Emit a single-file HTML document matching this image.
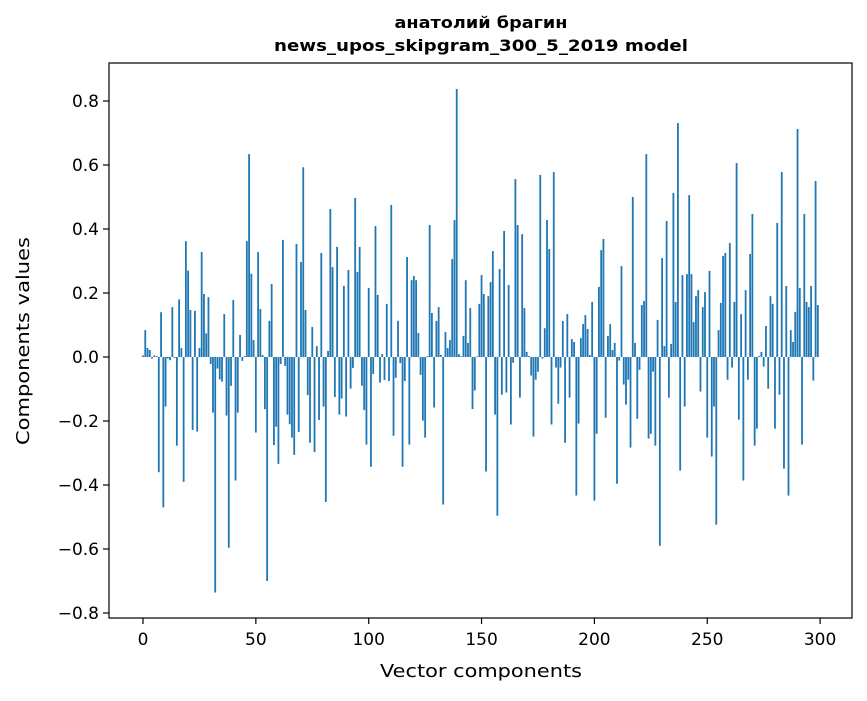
<!DOCTYPE html>
<html><head><meta charset="utf-8"><style>html,body{margin:0;padding:0;background:#fff}</style></head>
<body>
<svg id="s" width="867" height="696" xmlns="http://www.w3.org/2000/svg" font-family="DejaVu Sans, Liberation Sans, sans-serif">
<rect width="867" height="696" fill="#fff"/>
<g id="bars" fill="#1f77b4"></g>
<rect x="109" y="63" width="743" height="555" fill="none" stroke="#000" stroke-width="1.2"/>
<g id="ticks" stroke="#000" stroke-width="1.2"></g>
<g id="labels" font-size="17" fill="#000"></g>
<text x="481" y="28" text-anchor="middle" font-size="16" font-weight="bold" textLength="173" lengthAdjust="spacingAndGlyphs">анатолий брагин</text>
<text x="481" y="51" text-anchor="middle" font-size="16" font-weight="bold" textLength="414" lengthAdjust="spacingAndGlyphs">news_upos_skipgram_300_5_2019 model</text>
<text x="481" y="677" text-anchor="middle" font-size="18" textLength="202" lengthAdjust="spacingAndGlyphs">Vector components</text>
<text transform="translate(29,341) rotate(-90)" text-anchor="middle" font-size="18" textLength="208" lengthAdjust="spacingAndGlyphs">Components values</text>
</svg>
<script>
var v=[0.005,0.084,0.028,0.022,-0.005,0.005,0.003,-0.36,0.14,-0.47,-0.155,-0.005,-0.01,0.156,-0.003,-0.277,0.18,0.028,-0.39,0.362,0.27,0.147,-0.228,0.144,-0.233,0.028,0.328,0.197,0.074,0.187,-0.022,-0.174,-0.736,-0.036,-0.07,-0.077,0.134,-0.183,-0.596,-0.09,0.178,-0.386,-0.174,0.069,-0.012,0.003,0.362,0.634,0.26,0.053,
-0.236,0.328,0.15,0.006,-0.163,-0.7,0.113,0.228,-0.275,-0.218,-0.334,-0.022,0.366,-0.028,-0.18,-0.21,-0.252,-0.306,0.353,-0.234,0.297,0.593,0.147,-0.119,-0.268,0.094,-0.297,0.034,-0.197,0.325,-0.155,-0.453,0.019,0.4625,0.281,-0.125,0.344,-0.18,-0.13,0.222,-0.186,0.272,-0.099,-0.034,0.497,0.266,0.344,-0.09,-0.166,-0.274,
0.216,-0.343,-0.053,0.409,0.194,-0.08,0.009,-0.072,0.166,-0.075,0.475,-0.246,-0.065,0.113,-0.019,-0.343,-0.075,0.3125,-0.274,0.24,0.253,0.24,0.075,-0.056,-0.199,-0.252,0.003,0.4125,0.1375,-0.158,0.113,0.156,0.006,-0.461,0.078,0.028,0.053,0.306,0.428,0.8375,0.009,0.002,0.066,0.24,0.044,0.153,-0.1625,-0.105,0.002,0.166,
0.256,0.197,-0.358,0.19,0.234,0.331,-0.18,-0.496,0.275,-0.118,0.394,-0.111,0.225,-0.211,-0.018,0.556,0.4125,-0.127,0.384,0.153,0.016,0.003,-0.058,-0.249,-0.071,-0.046,0.569,-0.005,0.09,0.428,0.3375,-0.211,0.578,-0.033,-0.146,-0.033,0.1125,-0.268,0.134,-0.127,0.056,0.047,-0.433,-0.208,0.059,0.103,0.131,0.0875,0.006,0.172,
-0.449,-0.24,0.219,0.334,0.369,-0.19,0.066,0.103,0.022,0.044,-0.396,-0.011,0.284,-0.086,-0.149,-0.071,-0.283,0.5,0.044,-0.193,-0.04,0.1625,0.175,0.634,-0.255,-0.24,-0.046,-0.277,0.116,-0.59,0.309,0.034,0.425,-0.127,0.041,0.5125,0.172,0.731,-0.355,0.256,-0.155,0.259,0.506,0.259,0.109,0.19,0.209,-0.108,0.156,0.203,
-0.252,0.269,-0.311,-0.155,-0.524,0.084,0.169,0.316,0.325,-0.071,0.356,-0.033,0.172,0.606,-0.196,0.134,-0.386,0.209,-0.071,0.322,0.447,-0.277,-0.224,0.003,0.016,-0.03,0.097,-0.099,0.19,0.166,-0.224,0.419,-0.118,0.578,-0.349,0.222,-0.433,0.084,0.047,0.141,0.7125,0.216,-0.274,0.447,0.172,0.156,0.222,-0.074,0.55,0.1625];
var NS="http://www.w3.org/2000/svg";
function X(i){return 143+i*2.257;}
function Y(val){return 357-val*320;}
var g=document.getElementById('bars'),h='';
for(var i=0;i<v.length;i++){var y0=Y(Math.max(v[i],0)),y1=Y(Math.min(v[i],0));
h+='<rect x="'+(X(i)-0.9).toFixed(2)+'" y="'+y0.toFixed(2)+'" width="1.8" height="'+Math.max(y1-y0,0.3).toFixed(2)+'"/>';}
g.innerHTML=h;
var t='',l='';
for(var k=0;k<=6;k++){var x=X(k*50);t+='<line x1="'+x+'" y1="618" x2="'+x+'" y2="624"/>';l+='<text x="'+x+'" y="645" text-anchor="middle">'+(k*50)+'</text>';}
for(var k=-4;k<=4;k++){var val=k*0.2,y=Y(val);t+='<line x1="103" y1="'+y+'" x2="109" y2="'+y+'"/>';
var s=(Math.abs(val)).toFixed(1);if(k<0)s='\u22120'+s.slice(1);l+='<text x="99" y="'+(y+6)+'" text-anchor="end">'+s+'</text>';}
document.getElementById('ticks').innerHTML=t;document.getElementById('labels').innerHTML=l;
</script>
</body></html>
